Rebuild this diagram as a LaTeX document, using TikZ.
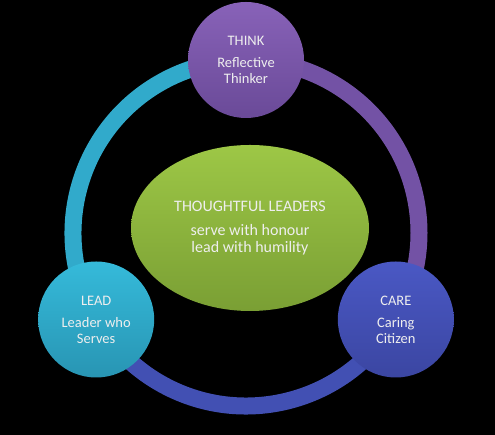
\documentclass[tikz,border=0pt]{standalone}
\usepackage{fontspec}
\setmainfont{Carlito}
\usetikzlibrary{shapes.geometric,backgrounds}
\definecolor{labelgray}{HTML}{EEEEEE}
\definecolor{thinkTop}{HTML}{8862B8}
\definecolor{thinkBot}{HTML}{6A4A98}
\definecolor{leadTop}{HTML}{35BADA}
\definecolor{leadBot}{HTML}{2895B3}
\definecolor{careTop}{HTML}{4A58C4}
\definecolor{careBot}{HTML}{3B46A2}
\definecolor{hubTop}{HTML}{9DC746}
\definecolor{hubBot}{HTML}{7A9F34}
\definecolor{ringPurple}{HTML}{7352A5}
\definecolor{ringCyan}{HTML}{31AACB}
\definecolor{ringBlue}{HTML}{4250B3}
\tikzset{
  bubble/.style  = {circle,minimum size=116pt,inner sep=0pt,align=center,
                    text=labelgray,font=\fontsize{14.5}{16}\selectfont},
  hub/.style     = {ellipse,minimum width=238pt,minimum height=166pt,inner sep=0pt,
                    align=center,text=labelgray,font=\fontsize{16}{17}\selectfont,
                    top color=hubTop,bottom color=hubBot},
  ringarc/.style = {line width=17pt}
}
\begin{document}
\begin{tikzpicture}[x=1pt,y=1pt]
  \useasboundingbox (0,0) rectangle (495,435);
  \coordinate (ring) at (246,202);
  \node[bubble,top color=thinkTop,bottom color=thinkBot] (think) at ([shift={(90:173)}]ring)
        {THINK\\[6pt]Reflective\\Thinker};
  \node[bubble,top color=leadTop,bottom color=leadBot]   (lead)  at ([shift={(210:173)}]ring)
        {LEAD\\[6pt]Leader who\\Serves};
  \node[bubble,top color=careTop,bottom color=careBot]   (care)  at ([shift={(330:173)}]ring)
        {CARE\\[6pt]Caring\\Citizen};
  \node[hub] (leaders) at (250,207)
        {THOUGHTFUL LEADERS\\[7pt]serve with honour\\lead with humility};
  % black page, then the ring behind the three circles
  \begin{scope}[on background layer]
    \fill[black] (0,0) rectangle (495,435);
    \draw[ringarc,ringPurple] (think.center) arc[start angle=90,end angle=-30,radius=173];
    \draw[ringarc,ringBlue]   (care.center)  arc[start angle=-30,end angle=-150,radius=173];
    \draw[ringarc,ringCyan]   (lead.center)  arc[start angle=210,end angle=90,radius=173];
  \end{scope}
\end{tikzpicture}
\end{document}
